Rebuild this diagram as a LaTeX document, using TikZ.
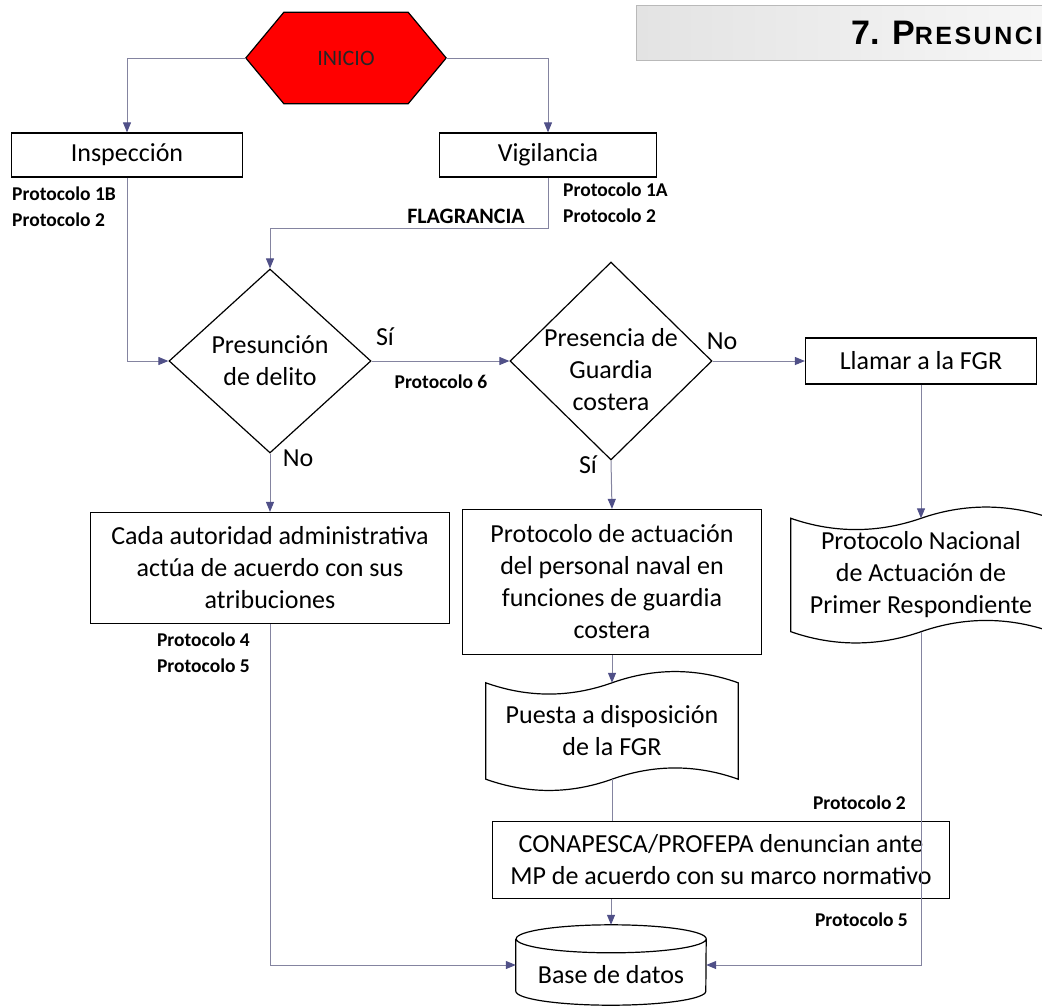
\documentclass[tikz,border=0pt]{standalone}
\usepackage{fontspec}
\setmainfont{Carlito}
\newfontfamily\headfont{Liberation Sans}
\usetikzlibrary{arrows.meta,shapes.geometric,backgrounds}
\definecolor{lnk}{HTML}{8484A0}
\definecolor{tipc}{HTML}{505088}
\definecolor{hexred}{HTML}{FF0000}
\newcommand{\txtfont}{\fontsize{26}{32}\selectfont}
\newcommand{\prtfont}{\fontsize{19.5}{26}\selectfont\bfseries}
% punched tape outline round node #1, control offset #2
\newcommand{\cinta}[2]{%
  \draw[line width=1.2pt] (#1.north west) .. controls +(#2,15) and +(-#2,15) .. (#1.north)
    .. controls +(#2,-15) and +(-#2,-15) .. (#1.north east) -- (#1.south east)
    .. controls +(-#2,-15) and +(#2,-15) .. (#1.south)
    .. controls +(-#2,15) and +(#2,15) .. (#1.south west) -- cycle;}

\begin{document}
\begin{tikzpicture}[x=1pt, y=-1pt,
    box/.style={draw, line width=1.2pt, fill=white, align=center, inner sep=0pt, font=\txtfont},
    decision/.style={diamond, draw, line width=1.2pt, align=center, inner xsep=-30pt, inner ysep=-10pt, font=\txtfont},
    arr/.style={draw=lnk, line width=1pt, -{Triangle[length=10pt, width=8pt, color=tipc]}},
    link/.style={draw=lnk, line width=1pt},
    prot/.style={font=\prtfont, align=left, inner sep=0pt},
    lbl/.style={font=\txtfont, inner sep=0pt}
]
    \useasboundingbox (0,0) rectangle (1042,1007);
    \clip (0,0) rectangle (1042,1007);

    % header bar
    \draw[draw=gray!55, left color=gray!22, right color=gray!6, line width=1pt] (636,5) rectangle (1070,60);
    \node[anchor=base west, inner sep=0pt, font=\headfont\bfseries\fontsize{34}{34}\selectfont] (head) at (851,44) {7. P{\fontsize{25}{25}\selectfont\addfontfeatures{LetterSpace=10}RESUNCIÓN}};

    % start
    \node[minimum width=200pt, minimum height=91pt, inner sep=0pt, font=\fontsize{22}{24}\selectfont, text=black!85] (inicio) at (346,58) {INICIO};
    \begin{scope}[on background layer]
        \draw[fill=hexred, line width=1.2pt] (inicio.west) -- ([xshift=38pt]inicio.north west) -- ([xshift=-38pt]inicio.north east)
            -- (inicio.east) -- ([xshift=-38pt]inicio.south east) -- ([xshift=38pt]inicio.south west) -- cycle;
    \end{scope}

    % boxes
    \node[box, minimum width=231pt, minimum height=44pt] (insp) at (127,155) {Inspección};
    \node[box, minimum width=217pt, minimum height=44pt] (vig) at (548,155) {Vigilancia};
    \node[decision, minimum width=202pt, minimum height=184pt] (pres) at (270,361) {Presunción\\de delito};
    \node[decision, minimum width=202pt, minimum height=198pt] (guard) at (611,361) {\rule{0pt}{36pt}Presencia de\\Guardia\\costera};
    \node[box, minimum width=231pt, minimum height=46pt] (llamar) at (921,361) {Llamar a la FGR};
    \node[box, minimum width=359pt, minimum height=111pt] (cada) at (270,568) {Cada autoridad administrativa\\actúa de acuerdo con sus\\atribuciones};
    \node[box, minimum width=299pt, minimum height=145pt] (pact) at (612,582) {Protocolo de actuación\\del personal naval en\\funciones de guardia\\costera};
    \node[lbl, align=center, minimum width=252pt, minimum height=96pt] (puesta) at (612,731) {Puesta a disposición\\de la FGR};
    \node[lbl, align=center, minimum width=260pt, minimum height=113pt] (pnac) at (921,575) {Protocolo Nacional\\de Actuación de\\Primer Respondiente};
    \cinta{puesta}{42}
    \cinta{pnac}{43}
    \node[box, minimum width=457pt, minimum height=77pt] (conap) at (721,860) {CONAPESCA/PROFEPA denuncian ante\\MP de acuerdo con su marco normativo};

    % database
    \node[lbl, minimum width=190pt, minimum height=52pt] (base) at (611,965) {\raisebox{-18pt}[0pt][0pt]{Base de datos}};
    \draw[line width=1.2pt] (base.north west) -- (base.south west) arc[start angle=180, end angle=360, x radius=95pt, y radius=14pt]
        -- (base.north east) arc[start angle=0, end angle=180, x radius=95pt, y radius=14pt]
        arc[start angle=180, end angle=360, x radius=95pt, y radius=14pt];

    % connections
    \draw[arr] (inicio.west) -| (insp.north);
    \draw[arr] (inicio.east) -| (vig.north);
    \draw[arr] (insp.south) |- (pres.west);
    \draw[arr] (vig.south) -- ++(0,51) -| (pres.north);
    \draw[arr] (pres.east) -- (guard.west);
    \draw[arr] (guard.east) -- (llamar.west);
    \draw[arr] (pres.south) -- (cada.north);
    \draw[arr] (guard.south) -- (pact.north);
    \draw[arr] (pact.south) -- (puesta.north);
    \draw[arr] (llamar.south) -- (pnac.north);
    \draw[link] (puesta.south) -- (puesta.south |- conap.north);
    \draw[arr] (conap.south -| base.north) -- ([yshift=14pt]base.north);
    \draw[arr] (cada.south) |- (base.west);
    \draw[arr] (pnac.south) |- (base.east);

    % labels
    \node[prot, anchor=north west] (p1b) at (12,187) {Protocolo 1B\\Protocolo 2};
    \node[prot, anchor=north west] (p1a) at (563,183) {Protocolo 1A\\Protocolo 2};
    \node[anchor=base east, inner sep=0pt, font=\fontsize{22}{22}\selectfont\bfseries] (flag) at (525,223) {FLAGRANCIA};
    \node[lbl] (si1) at (385,337) {Sí};
    \node[prot] (p6) at (441,382) {Protocolo 6};
    \node[lbl] (no1) at (722,341) {No};
    \node[lbl] (no2) at (298,458) {No};
    \node[lbl] (si2) at (588,465) {Sí};
    \node[prot, anchor=north east, align=right] (p45) at (250,633) {Protocolo 4\\Protocolo 5};
    \node[prot, anchor=east] (p2b) at (906,803) {Protocolo 2};
    \node[prot, anchor=east] (p5b) at (908,920) {Protocolo 5};
\end{tikzpicture}
\end{document}
